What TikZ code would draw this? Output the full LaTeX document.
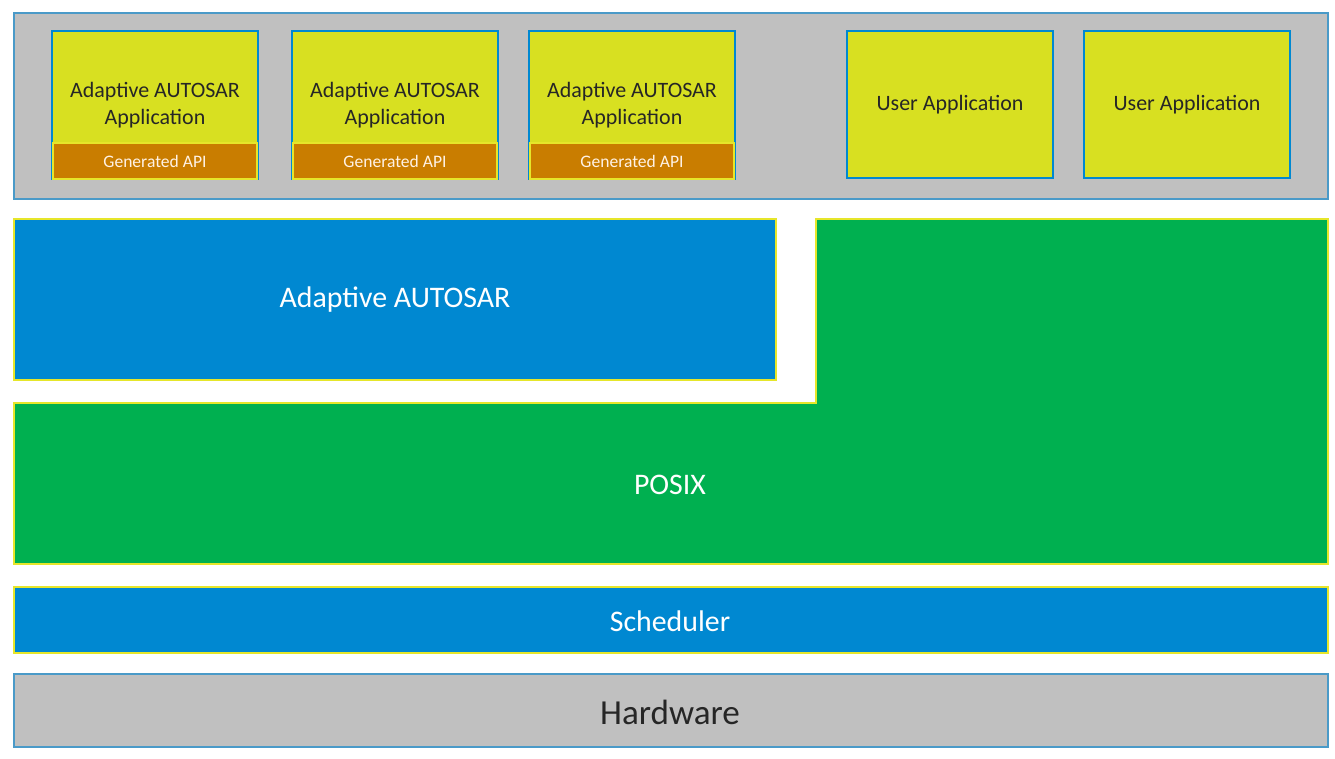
\documentclass[tikz,border=0pt]{standalone}
\usepackage{fontspec}
\setmainfont{Carlito}
\definecolor{gr}{HTML}{C0C0C0}
\definecolor{bb}{HTML}{4A9AC8}
\definecolor{yl}{HTML}{D8E021}
\definecolor{or}{HTML}{C97D00}
\definecolor{bl}{HTML}{0088D1}
\definecolor{gn}{HTML}{00B050}
\definecolor{ye}{HTML}{E6E62A}
\begin{document}
\begin{tikzpicture}[x=0.02cm,y=-0.02cm,
 app/.style={fill=yl,draw=bl,line width=1.5pt},
 api/.style={fill=or,draw=ye,line width=1.2pt},
 lay/.style={draw=ye,line width=1.5pt},
 apptxt/.style={font=\fontsize{12.5}{15}\selectfont,align=center,text=black!85},
 apitxt/.style={font=\fontsize{10}{12}\selectfont,text=white!90!orange}]
\useasboundingbox (0,0) rectangle (1335,759);
\draw[fill=gr,draw=bb,line width=1.2pt] (14,13) rectangle (1328,199);
\foreach \x/\n in {52/a,292/b,529/c}{
 \draw[app] (\x,31) rectangle ++(206,148);
 \node[apptxt] (t\n) at (\x+103,105) {Adaptive AUTOSAR\\Application};
 \draw[api] (\x+1,143) rectangle ++(204,36);
 \node[apitxt] (g\n) at (\x+103,161) {Generated API};
}
\foreach \x/\n in {847/d,1084/e}{
 \draw[app] (\x,31) rectangle ++(206,147);
 \node[apptxt] (t\n) at (\x+103,105) {User Application};
}
\draw[lay,fill=bl] (14,219) rectangle (776,380);
\node[font=\fontsize{17}{20}\selectfont,text=white] (aa) at (395,300) {Adaptive AUTOSAR};
\draw[lay,fill=gn] (816,219) -- (1328,219) -- (1328,564) -- (14,564) -- (14,403) -- (816,403) -- cycle;
\node[font=\fontsize{17}{20}\selectfont,text=white] (px) at (670,485) {POSIX};
\draw[lay,fill=bl] (14,587) rectangle (1328,653);
\node[font=\fontsize{17}{20}\selectfont,text=white] (sc) at (670,621) {Scheduler};
\draw[fill=gr,draw=bb,line width=1.2pt] (14,674) rectangle (1328,747);
\node[font=\fontsize{20}{24}\selectfont,text=black!85] (hw) at (670,712) {Hardware};
\end{tikzpicture}
\end{document}
